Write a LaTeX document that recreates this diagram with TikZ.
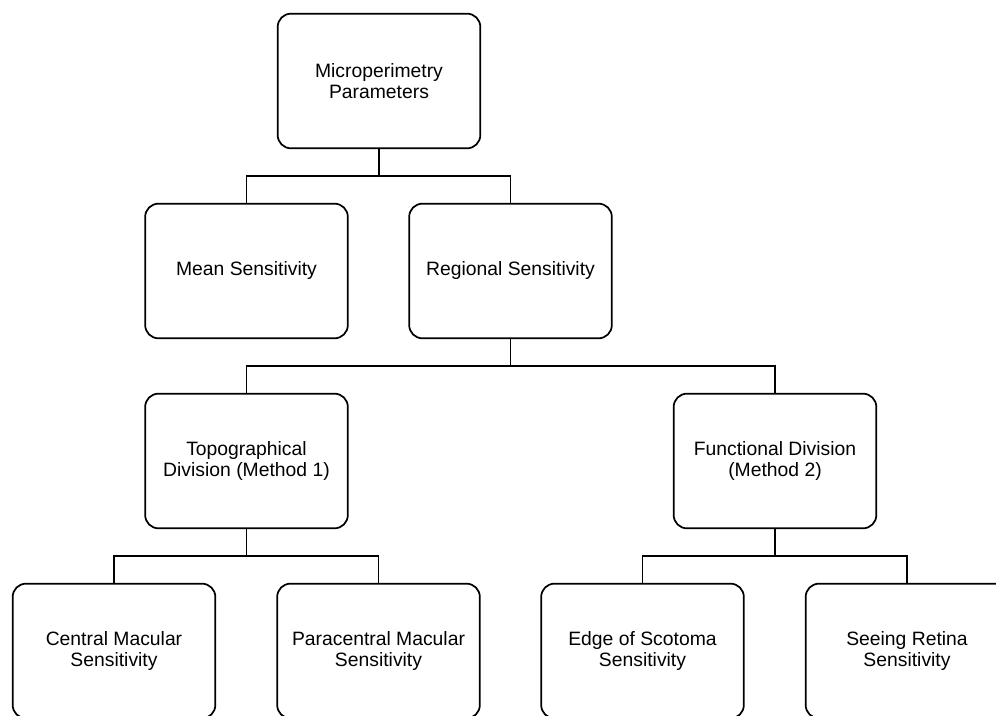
\documentclass[tikz,border=0pt]{standalone}
\usepackage{fontspec}
\setmainfont{Liberation Sans}
\tikzset{
  parambox/.style = {
    draw, line width=1.3pt, rounded corners=10pt,
    minimum width=152pt, minimum height=101pt,
    align=center, font=\fontsize{14.5}{15.5}\selectfont
  },
  branch/.style = {line width=1.3pt}
}

\begin{document}
\begin{tikzpicture}[x=0.75pt, y=-0.75pt]

  % Frame
  \useasboundingbox (0,0) rectangle (996,716);
  \clip (0,0) rectangle (996,716);

  % Root
  \node[parambox] (root) at (379,81) {Microperimetry\\Parameters};

  % Second level
  \node[parambox] (mean) at (246.5,271) {Mean Sensitivity};
  \node[parambox] (regional) at (510.5,271) {Regional Sensitivity};

  % Methods
  \node[parambox] (topo) at (246.5,461) {Topographical\\Division (Method 1)};
  \node[parambox] (func) at (775,461) {Functional Division\\(Method 2)};

  % Leaves
  \node[parambox] (central) at (114,651) {Central Macular\\Sensitivity};
  \node[parambox] (paracentral) at (378.5,651) {Paracentral Macular\\Sensitivity};
  \node[parambox] (edge) at (642.5,651) {Edge of Scotoma\\Sensitivity};
  \node[parambox] (seeing) at (907,651) {Seeing Retina\\Sensitivity};

  % Connectors
  \draw[branch] (root.south) -- ++(0,27) -| (mean.north);
  \draw[branch] (root.south) -- ++(0,27) -| (regional.north);
  \draw[branch] (regional.south) -- ++(0,27) -| (topo.north);
  \draw[branch] (regional.south) -- ++(0,27) -| (func.north);
  \draw[branch] (topo.south) -- ++(0,27) -| (central.north);
  \draw[branch] (topo.south) -- ++(0,27) -| (paracentral.north);
  \draw[branch] (func.south) -- ++(0,27) -| (edge.north);
  \draw[branch] (func.south) -- ++(0,27) -| (seeing.north);

\end{tikzpicture}
\end{document}
